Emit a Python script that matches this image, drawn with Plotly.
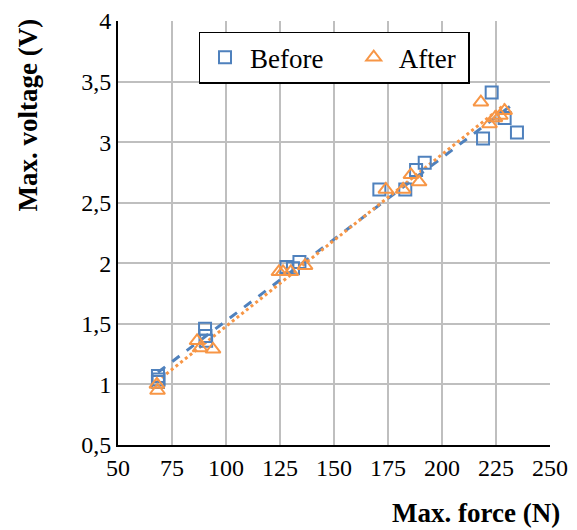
import numpy as np
import plotly.graph_objects as go

# values
before_force = [68.5, 68.5, 68.8, 90.3, 90.5, 90.8, 128, 131, 134,
                171, 183, 188, 192, 219, 223, 229, 234.7]
before_volt = [1.07, 1.02, 1.04, 1.46, 1.40, 1.36, 1.97, 1.96, 2.01,
               2.61, 2.61, 2.77, 2.83, 3.03, 3.41, 3.20, 3.08]

after_force = [68, 68.3, 86.6, 88, 94, 124.5, 126.4, 130, 136.6,
               174, 182, 185.6, 189.4, 218, 222, 224.5, 227, 229]
after_volt = [1.00, 0.95, 1.36, 1.30, 1.29, 1.93, 1.93, 1.93, 1.98,
              2.61, 2.61, 2.73, 2.67, 3.33, 3.15, 3.20, 3.22, 3.26]

x_ticks = [50, 75, 100, 125, 150, 175, 200, 225, 250]
y_ticks = [0.5, 1, 1.5, 2, 2.5, 3, 3.5, 4]
y_ticktext = ["0,5", "1", "1,5", "2", "2,5", "3", "3,5", "4"]

blue = "#4F81BD"
orange = "#F79646"
font = "Liberation Serif, Times New Roman, serif"

fig = go.Figure()

# linear trendlines
for fx, fy, col, dash in [(before_force, before_volt, blue, "dash"),
                          (after_force, after_volt, orange, "dot")]:
    k, b = np.polyfit(fx, fy, 1)
    xs = np.array([min(fx), max(fx)])
    fig.add_trace(go.Scatter(x=xs, y=k * xs + b, mode="lines",
                             line=dict(color=col, width=3, dash=dash),
                             showlegend=False, hoverinfo="skip"))

fig.add_trace(go.Scatter(x=before_force, y=before_volt, mode="markers",
                         name="Before\u00a0\u00a0\u00a0",
                         marker=dict(symbol="square-open", size=12, color=blue,
                                     line=dict(width=2, color=blue))))
fig.add_trace(go.Scatter(x=after_force, y=after_volt, mode="markers",
                         name="After\u00a0",
                         marker=dict(symbol="triangle-up-open", size=13, color=orange,
                                     line=dict(width=2, color=orange))))

# page body has an 8px margin, so the figure is 8px smaller than the window
fig.update_layout(
    width=569, height=522,
    margin=dict(l=110, r=27, t=13, b=85),
    paper_bgcolor="white", plot_bgcolor="white",
    font=dict(family=font, size=24, color="black"),
    legend=dict(orientation="h", x=0.50, xanchor="center", y=0.975, yanchor="top",
                bgcolor="white", bordercolor="black", borderwidth=1.5,
                font=dict(size=27), itemwidth=40, traceorder="normal"),
    xaxis=dict(range=[50, 250], tickvals=x_ticks, showgrid=True,
               gridcolor="#bfbfbf", gridwidth=2, zeroline=False,
               showline=True, linecolor="black", linewidth=2, automargin=False,
               ticks="", tickfont=dict(size=24)),
    yaxis=dict(range=[0.5, 4], tickvals=y_ticks, ticktext=y_ticktext,
               showgrid=True, gridcolor="#bfbfbf", gridwidth=2, zeroline=False,
               showline=True, linecolor="black", linewidth=2, automargin=False,
               ticks="", tickfont=dict(size=24)),
    annotations=[
        dict(text="<b>Max. force (N)</b>", xref="paper", yref="paper",
             x=1.028, y=-0.16, xanchor="right", yanchor="middle",
             showarrow=False, font=dict(size=27)),
        dict(text="<b>Max. voltage (V)</b>", xref="paper", yref="paper",
             x=-0.208, y=1.01, xanchor="center", yanchor="top", textangle=-90,
             showarrow=False, font=dict(size=27)),
    ],
)

fig.write_html("out.html")
